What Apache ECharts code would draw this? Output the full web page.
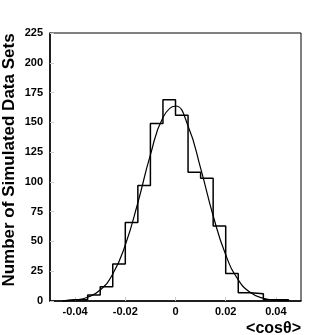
<!DOCTYPE html>
<html>
<head>
<meta charset="utf-8">
<script src="https://cdn.jsdelivr.net/npm/echarts@6/dist/echarts.min.js"></script>
<style>
  html, body { margin: 0; padding: 0; background: #fff; }
  #main { width: 335px; height: 335px; }
</style>
</head>
<body>
<div id="main"></div>
<script>
// histogram: bin left edges (width 0.005) and counts
const binEdges = [-0.045, -0.04, -0.035, -0.03, -0.025, -0.02, -0.015, -0.01, -0.005,
                  0, 0.005, 0.01, 0.015, 0.02, 0.025, 0.03, 0.035, 0.04]
const binCounts = [1, 1, 5, 12, 31, 66, 97, 149, 169, 156, 108, 103, 63, 23, 7, 6, 1, 1]
const binEnd = 0.045

// fitted curve
const curveX = [-0.045, -0.04, -0.035, -0.03, -0.025, -0.02, -0.015, -0.01, -0.005,
                0, 0.005, 0.01, 0.015, 0.02, 0.025, 0.03, 0.035, 0.04, 0.045]
const curveY = [0.2, 0.9, 3.2, 9.2, 22.6, 47, 82.5, 122.7, 154,
                163.7, 147, 111.6, 71.6, 38.8, 17.8, 6.9, 2.3, 0.6, 0.1]

const xTicks = [-0.04, -0.02, 0, 0.02, 0.04]

let histData = [[binEdges[0], 0]]
binEdges.forEach((x, i) => histData.push([x, binCounts[i]]))
histData.push([binEnd, 0])

const curveData = curveX.map((x, i) => [x, curveY[i]])

const font = 'Liberation Sans, Arial, sans-serif'

let myChart = echarts.init(document.getElementById('main'))
myChart.setOption({
    animation: false,
    grid: {
        left: 50,
        right: 34,
        top: 33,
        bottom: 34,
        outerBoundsMode: 'none',
        containLabel: false,
        show: true,
        borderColor: '#000',
        borderWidth: 1
    },
    // y axis title, placed by hand
    graphic: [{
        type: 'text',
        x: 9,
        y: 160,
        rotation: Math.PI / 2,
        style: {
            text: 'Number of Simulated Data Sets',
            fill: '#000',
            fontFamily: font,
            fontWeight: 'bold',
            fontSize: 17,
            textAlign: 'center',
            textVerticalAlign: 'middle'
        }
    }],
    xAxis: {
        type: 'value',
        min: -0.05,
        max: 0.05,
        splitLine: { show: false },
        axisLine: { onZero: false, lineStyle: { color: '#000', width: 1.5 } },
        axisTick: { inside: true, length: 4, customValues: xTicks, lineStyle: { color: '#ccc' } },
        axisLabel: {
            customValues: xTicks,
            margin: 5,
            color: '#000',
            fontFamily: font,
            fontWeight: 'bold',
            fontSize: 11,
            formatter: v => (Math.abs(v) < 1e-9 ? '0' : v.toFixed(2))
        },
        name: '<cosθ>',
        nameLocation: 'end',
        nameGap: 0,
        nameTextStyle: {
            color: '#000',
            fontFamily: font,
            fontWeight: 'bold',
            fontSize: 16,
            align: 'right',
            verticalAlign: 'top',
            padding: [20, 0, 0, 0]
        }
    },
    yAxis: {
        type: 'value',
        min: 0,
        max: 225,
        interval: 25,
        splitLine: { show: false },
        axisLine: { show: true, onZero: false, lineStyle: { color: '#000', width: 1.5 } },
        axisTick: { show: true, inside: true, length: 4, lineStyle: { color: '#ccc' } },
        axisLabel: {
            margin: 7,
            color: '#000',
            fontFamily: font,
            fontWeight: 'bold',
            fontSize: 11
        }
    },
    series: [
        {
            name: 'histogram',
            type: 'line',
            step: 'end',
            data: histData,
            symbol: 'none',
            lineStyle: { color: '#000', width: 1.5 }
        },
        {
            name: 'fit',
            type: 'line',
            smooth: true,
            data: curveData,
            symbol: 'none',
            lineStyle: { color: '#000', width: 1.2 }
        }
    ]
})
window.addEventListener('resize', function () {
    myChart.resize()
})
</script>
</body>
</html>
